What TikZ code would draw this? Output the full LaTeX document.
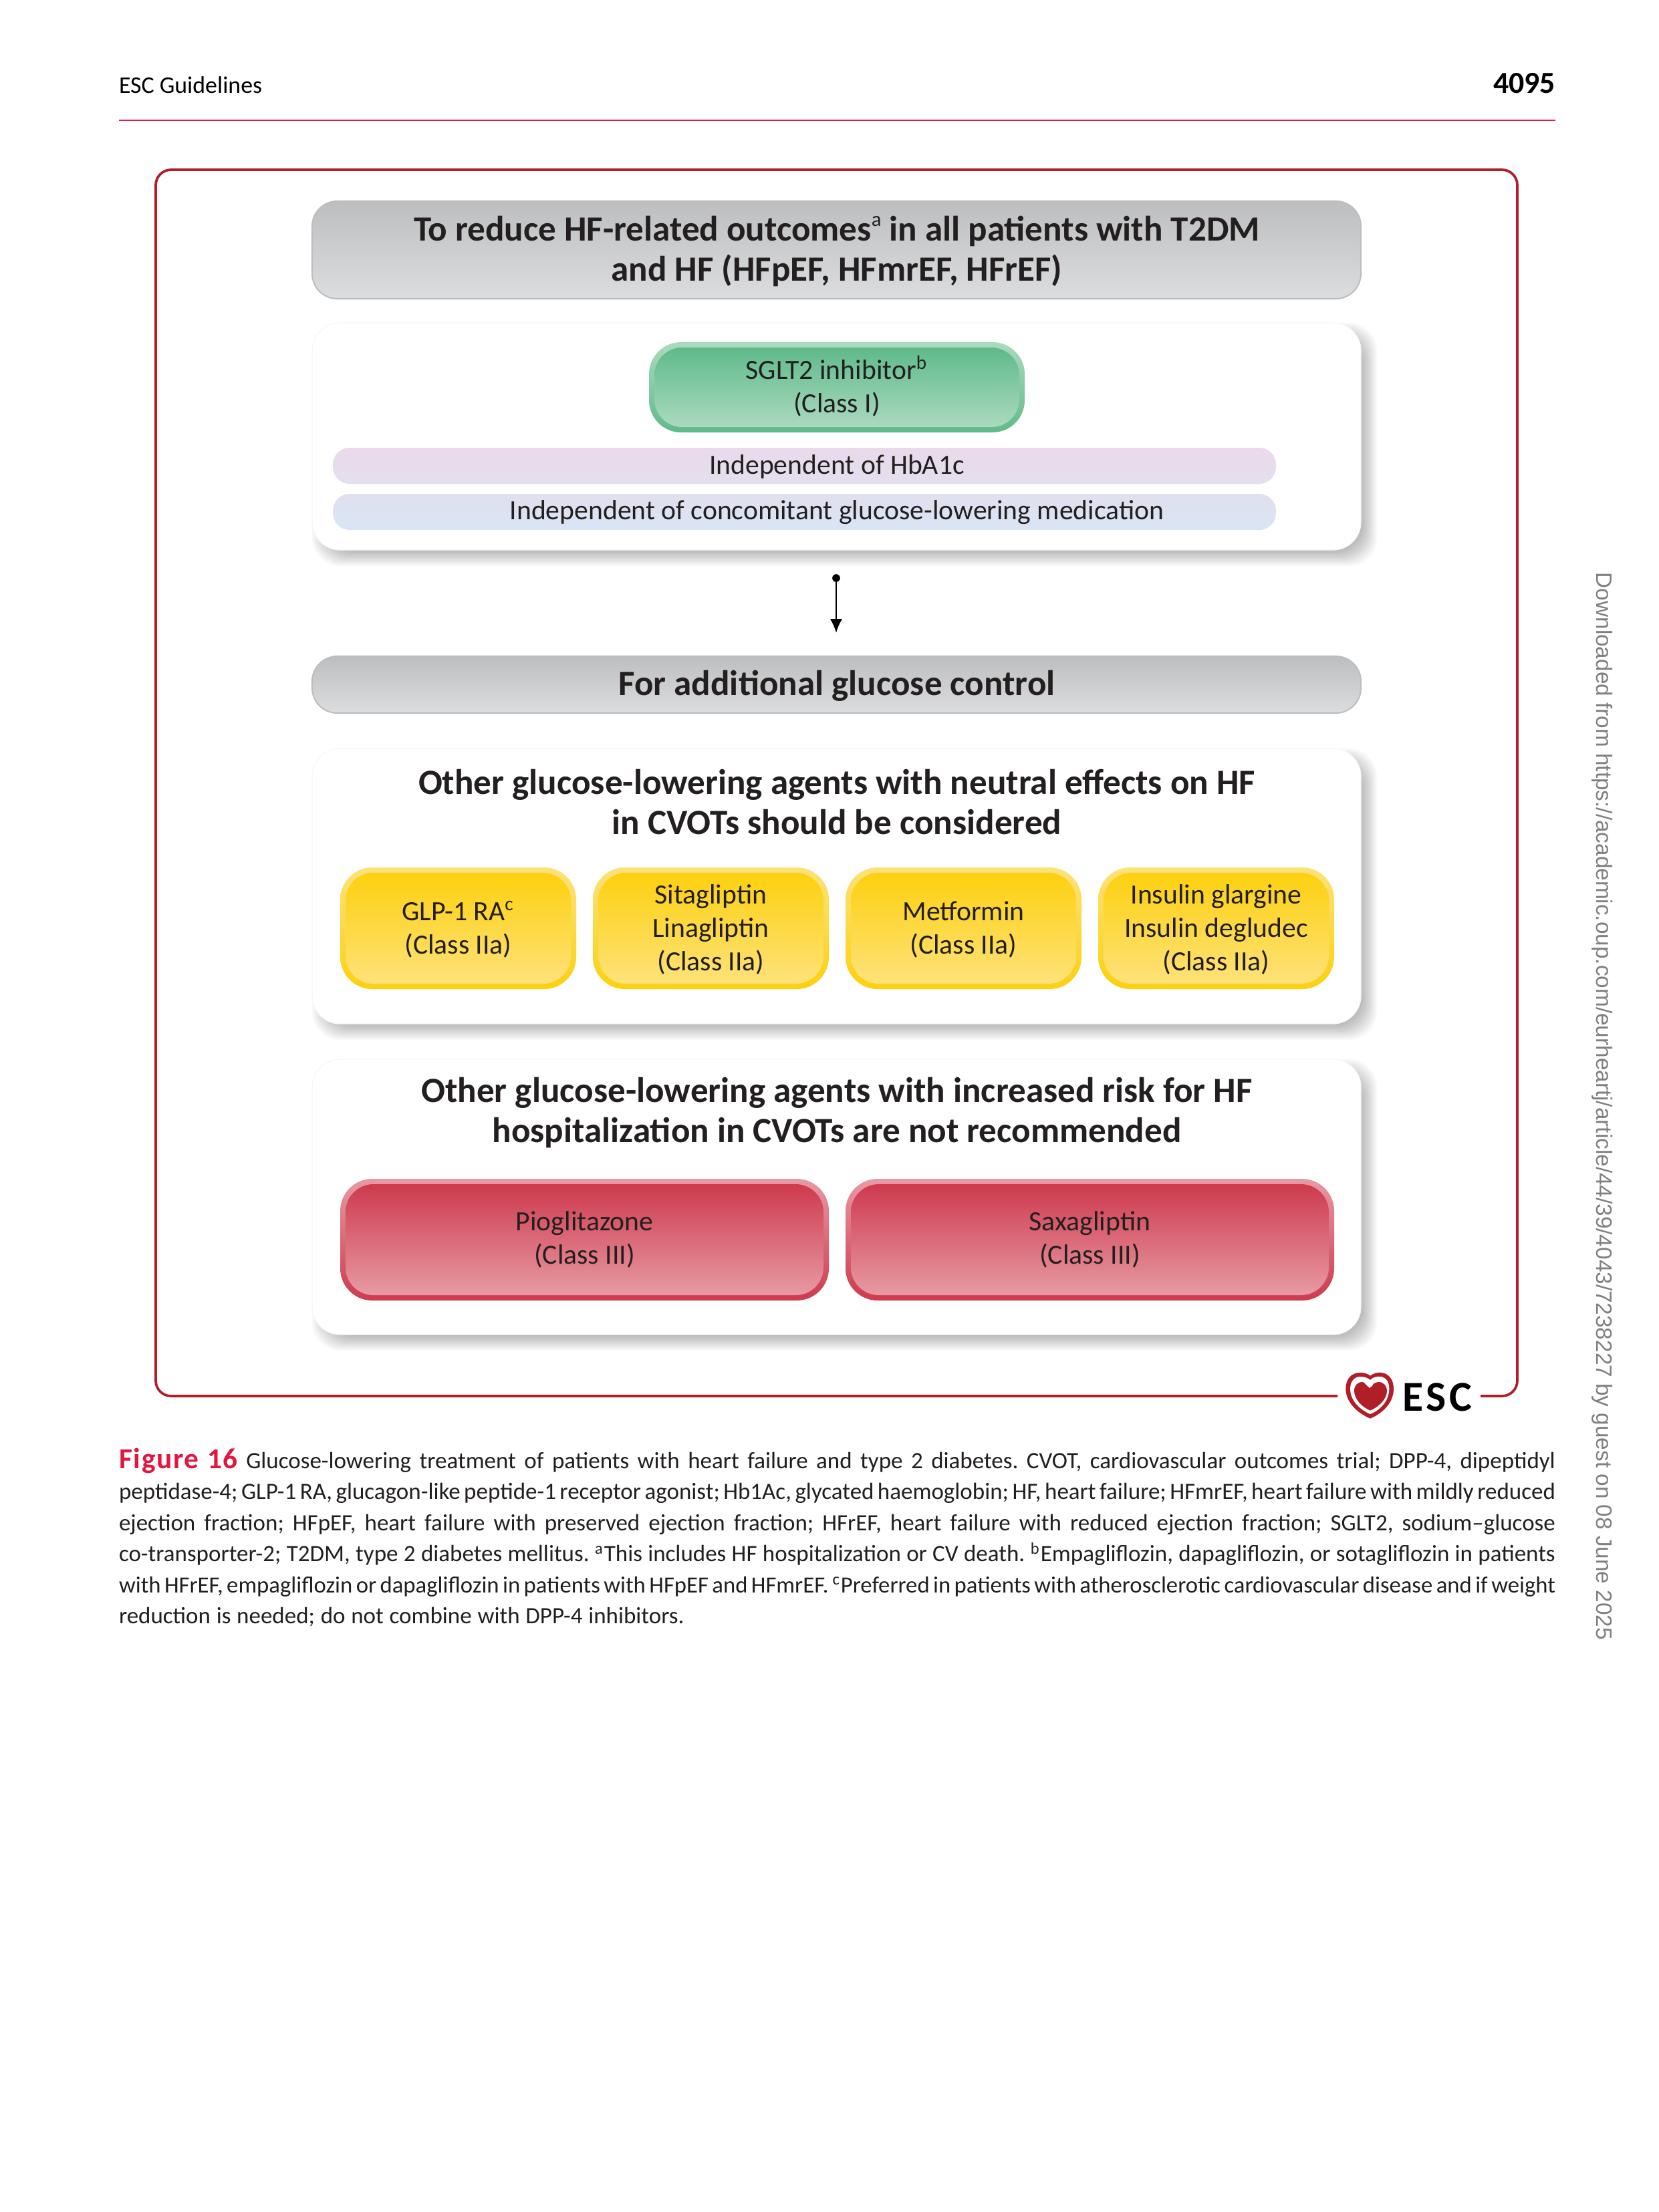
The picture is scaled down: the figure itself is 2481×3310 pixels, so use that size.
\documentclass[tikz,border=0pt]{standalone}
\usepackage{fontspec}
\usepackage{xcolor}
\usepackage{tikz}
\setmainfont{Carlito}
\newfontfamily\sidefont{Liberation Sans}
\usetikzlibrary{arrows.meta,calc,positioning}
\definecolor{escred}{HTML}{B01F28}
\definecolor{figred}{HTML}{E2173F}
\definecolor{headrule}{HTML}{DD1F4C}
\definecolor{inktext}{HTML}{231F20}
\definecolor{HFgreyA}{HTML}{BDBEC0}
\definecolor{HFgreyB}{HTML}{DCDDDF}
\definecolor{HFgreenA}{HTML}{5FBA8B}
\definecolor{HFgreenB}{HTML}{ABDABF}
\definecolor{HFyellowA}{HTML}{FDD00F}
\definecolor{HFyellowB}{HTML}{FDE27A}
\definecolor{HFredA}{HTML}{CE3A4E}
\definecolor{HFredB}{HTML}{E79AA3}
\definecolor{stripA}{HTML}{EBD9EA}
\definecolor{stripB}{HTML}{E3DFEE}
\definecolor{stripC}{HTML}{E1E0EE}
\definecolor{stripD}{HTML}{D9E5F5}
\newcommand{\drugbox}[9]{%
  \node (#1-rim) [drugrim, minimum width=#4*0.24pt, minimum height=#5*0.24pt, top color=#7, bottom color=#6] at (#2,#3) {};
  \node (#1-fill) [drugfill, minimum width=(#4-16)*0.24pt, minimum height=(#5-16)*0.24pt, top color=#6, bottom color=#7] at (#1-rim.center) {};
  \node (#1) [drugtext] at (#2,#3+#9) {#8};
}
\newcommand{\panelshade}[3]{%
  \foreach \d in {12,10,...,-12}
    \node (#3-\d) [shadelayer, minimum width=(1569-2*\d)*0.24pt, minimum height=(#2-2*\d)*0.24pt] at (1263.5,#1+12) {};
}
\newcommand{\capline}[1]{\hbox to 515.76pt{#1}}
\newcommand{\barnote}[1]{\raisebox{0.42em}{\fontsize{7.4}{8}\selectfont\mdseries #1}}

\begin{document}
\begin{tikzpicture}[
    x=0.24pt, y=-0.24pt,
    headbar/.style={rectangle, rounded corners=9pt, draw=HFgreyA, line width=0.5pt,
        top color=HFgreyA, bottom color=HFgreyB, inner sep=0, outer sep=0,
        minimum width=1569*0.24pt},
    headtext/.style={align=center, text=inktext, inner sep=0,
        font=\fontsize{12.75}{14.4}\selectfont\bfseries},
    panel/.style={rectangle, rounded corners=10pt, fill=white, draw=black!3, line width=0.3pt,
        inner sep=0, outer sep=0, minimum width=1569*0.24pt},
    shadelayer/.style={rectangle, rounded corners=10pt, fill=black, opacity=0.025, inner sep=0, outer sep=0},
    drugrim/.style={rectangle, rounded corners=11.5pt, inner sep=0, outer sep=0},
    drugfill/.style={rectangle, rounded corners=10pt, inner sep=0, outer sep=0},
    drugtext/.style={inner sep=0, align=center, text=inktext, font=\fontsize{10}{12}\selectfont},
    strip/.style={rectangle, rounded corners=6pt, inner sep=0, outer sep=0, minimum width=1411*0.24pt,
        minimum height=54*0.24pt},
    striptext/.style={inner sep=0, text=inktext, font=\fontsize{10}{12}\selectfont},
    pagetext/.style={inner sep=0, outer sep=0, text=inktext}]

\useasboundingbox (0,0) rectangle (2481,3310);
\fill[white] (0,0) rectangle (2481,3310);

% page header
\node (RUNHEAD) [pagetext, anchor=west, text=black, font=\fontsize{8.6}{10}\selectfont] at (178,127) {ESC Guidelines};
\node (PAGENO) [pagetext, anchor=east, text=black, font=\fontsize{11}{12}\selectfont\bfseries] at (2327,125) {4095};
\coordinate (RULEL) at (178,180);
\coordinate (RULER) at (2327,180);
\draw[headrule, line width=0.55pt] (RULEL) -- (RULER);

% frame, open where the logo sits
\coordinate (FRAMEA) at (2001,2089);
\coordinate (FRAMEB) at (2215,2089);
\draw[escred, line width=0.9pt, rounded corners=5.5pt] (FRAMEA) -- (233,2089) -- (233,254) -- (2270,254) -- (2270,2089) -- (FRAMEB);

% first block
\node (GOALBAR) [headbar, minimum height=146*0.24pt] at (1251.5,374) {};
\node (GOALTEXT) [headtext] at (1252,376) {To reduce HF-related outcomes\barnote{a} in all patients with T2DM\\and HF (HFpEF, HFmrEF, HFrEF)};
\panelshade{653}{340}{SHADEA}
\node (PANELA) [panel, minimum height=340*0.24pt] at (1251.5,653) {};
\drugbox{SGLT}{1252}{579.5}{562}{135}{HFgreenA}{HFgreenB}{SGLT2 inhibitor\textsuperscript{b}\\(Class I)}{-2}
\node (HBSTRIP) [strip, top color=stripA, bottom color=stripB] at (1203.5,697) {};
\node (HBTEXT) [striptext] at (1252,698) {Independent of HbA1c};
\node (MEDSTRIP) [strip, top color=stripC, bottom color=stripD] at (1203.5,766) {};
\node (MEDTEXT) [striptext] at (1252,767) {Independent of concomitant glucose-lowering medication};

% link
\coordinate (LINKA) at (1251,865);
\coordinate (LINKB) at (1251,947);
\fill[black] (LINKA) circle (1.4pt);
\draw[black, line width=0.6pt, -{Latex[length=5pt,width=4.4pt]}] (LINKA) -- (LINKB);

% second block
\node (GLUCBAR) [headbar, minimum height=85*0.24pt] at (1251.5,1024.5) {};
\node (GLUCTEXT) [headtext] at (1252,1026.5) {For additional glucose control};
\panelshade{1326}{412}{SHADEB}
\node (PANELB) [panel, minimum height=412*0.24pt] at (1251.5,1326) {};
\node (NEUTRAL) [headtext] at (1252,1200) {Other glucose-lowering agents with neutral effects on HF\\in CVOTs should be considered};
\drugbox{GLP}{685.5}{1389}{353}{182}{HFyellowA}{HFyellowB}{GLP-1 RA\textsuperscript{c}\\(Class IIa)}{2}
\drugbox{SITA}{1063.5}{1389}{353}{182}{HFyellowA}{HFyellowB}{Sitagliptin\\Linagliptin\\(Class IIa)}{2}
\drugbox{METF}{1441.5}{1389}{353}{182}{HFyellowA}{HFyellowB}{Metformin\\(Class IIa)}{2}
\drugbox{INSU}{1819.5}{1389}{353}{182}{HFyellowA}{HFyellowB}{Insulin glargine\\Insulin degludec\\(Class IIa)}{2}

% third block
\panelshade{1791}{412}{SHADEC}
\node (PANELC) [panel, minimum height=412*0.24pt] at (1251.5,1791) {};
\node (RISK) [headtext] at (1252,1665) {Other glucose-lowering agents with increased risk for HF\\hospitalization in CVOTs are not recommended};
\drugbox{PIOG}{874.5}{1855}{731}{182}{HFredA}{HFredB}{Pioglitazone\\(Class III)}{0}
\drugbox{SAXA}{1630.5}{1855}{731}{182}{HFredA}{HFredB}{Saxagliptin\\(Class III)}{0}

% logo
\begin{scope}[shift={(1900,1950)}, x=0.08pt, y=-0.08pt]
\fill[escred] (450,518) .. controls (385,490) and (340,440) .. (340,385) .. controls (340,340) and (365,312) .. (405,312) .. controls (425,312) and (440,318) .. (450,326) .. controls (465,314) and (485,310) .. (500,312) .. controls (535,316) and (555,345) .. (555,385) .. controls (555,440) and (515,490) .. (450,518) -- cycle;
\fill[white] (450,498) .. controls (395,475) and (360,430) .. (360,385) .. controls (360,350) and (380,330) .. (405,330) .. controls (425,330) and (440,336) .. (450,345) .. controls (462,332) and (480,328) .. (498,330) .. controls (520,334) and (535,352) .. (535,385) .. controls (535,430) and (505,475) .. (450,498) -- cycle;
\fill[escred] (450,482) .. controls (410,465) and (378,430) .. (378,393) .. controls (378,370) and (393,354) .. (415,354) .. controls (430,354) and (442,365) .. (450,378) .. controls (460,365) and (472,354) .. (488,354) .. controls (510,354) and (525,372) .. (525,393) .. controls (525,430) and (490,465) .. (450,482) -- cycle;
\fill[white] (415,350) -- (430,342) -- (462,368) -- (447,381) -- cycle;
\end{scope}
\node (ESCMARK) [inner sep=0, anchor=west, text=black, font=\fontsize{15.3}{16}\selectfont\bfseries\addfontfeatures{LetterSpace=7}] at (2098,2090.5) {ESC};

% caption
\node (CAPTION) [pagetext, anchor=north west, text width=515.76pt, align=left,
    font=\fontsize{8.4}{11.16}\selectfont] at (178,2167) {\frenchspacing\spaceskip=0.25em plus 1em minus 0.11em\relax
\capline{{\color{figred}\bfseries\fontsize{10.4}{11.16}\selectfont\addfontfeatures{LetterSpace=4}Figure 16} Glucose-lowering treatment of patients with heart failure and type 2 diabetes. CVOT, cardiovascular outcomes trial; DPP-4, dipeptidyl}
\capline{peptidase-4; GLP-1 RA, glucagon-like peptide-1 receptor agonist; Hb1Ac, glycated haemoglobin; HF, heart failure; HFmrEF, heart failure with mildly reduced}
\capline{ejection fraction; HFpEF, heart failure with preserved ejection fraction; HFrEF, heart failure with reduced ejection fraction; SGLT2, sodium--glucose}
\capline{co-transporter-2; T2DM, type 2 diabetes mellitus. \textsuperscript{a}This includes HF hospitalization or CV death. \textsuperscript{b}Empagliflozin, dapagliflozin, or sotagliflozin in patients}
\capline{\fontsize{8.33}{11.16}\selectfont with HFrEF, empagliflozin or dapagliflozin in patients with HFpEF and HFmrEF. \textsuperscript{c}Preferred in patients with atherosclerotic cardiovascular disease and if weight}
\hbox{reduction is needed; do not combine with DPP-4 inhibitors.}};

% download note
\node (DOWNLOAD) [inner sep=0, rotate=-90, anchor=west, text=black!50, font=\sidefont\fontsize{8}{10}\selectfont] at (2397,856) {Downloaded from https://academic.oup.com/eurheartj/article/44/39/4043/7238227 by guest on 08 June 2025};

\end{tikzpicture}
\end{document}
